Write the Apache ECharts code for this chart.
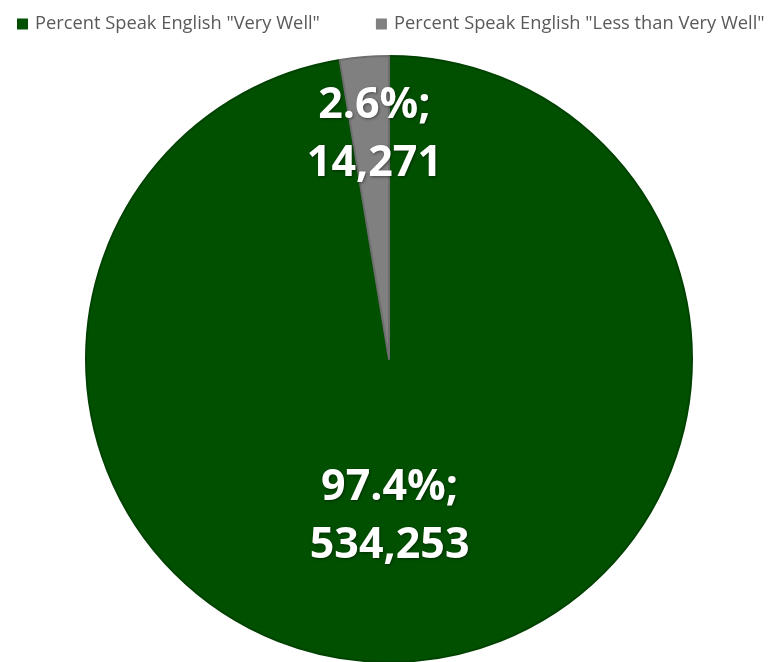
<!DOCTYPE html>
<html>
<head>
<meta charset="utf-8">
<script src="https://cdn.jsdelivr.net/npm/echarts@6/dist/echarts.min.js"></script>
<style>html,body{margin:0;padding:0;background:#fff;}#c{width:774px;height:662px;}</style>
</head>
<body>
<div id="c"></div>
<script>
const categories = ['Percent Speak English "Very Well"', 'Percent Speak English "Less than Very Well"'];
const counts = [534253, 14271];
const percents = ['97.4%', '2.6%'];
const colors = ['#005000', '#808080'];
const borderColors = ['#004200', '#6e6e6e'];

const chart = echarts.init(document.getElementById('c'));
chart.setOption({
  animation: false,
  legend: {
    left: 12, top: 10,
    itemWidth: 11, itemHeight: 11, itemGap: 56,
    icon: 'rect',
    itemStyle: { borderWidth: 0 },
    textStyle: { fontFamily: 'Open Sans', fontSize: 18.3, color: '#595959', padding: [0, 0, 0, 2] },
    data: categories
  },
  series: [{
    type: 'pie',
    center: [389, 359],
    radius: ['0%', 303],
    startAngle: 90,
    clockwise: true,
    label: {
      show: true,
      position: 'inside',
      fontFamily: 'Open Sans',
      fontWeight: 'bold',
      fontSize: 43,
      lineHeight: 58,
      color: '#fff',
      textShadowColor: 'rgba(0,0,0,0.45)',
      textShadowBlur: 3,
      textShadowOffsetX: 1,
      textShadowOffsetY: 1,
      formatter: p => percents[p.dataIndex] + ';\n' + counts[p.dataIndex].toLocaleString('en-US')
    },
    labelLayout: function (p) {
      if (p.dataIndex === 1) return { dy: -70, dx: -2 };
      return { dx: -12, dy: 4 };
    },
    labelLine: { show: false },
    data: categories.map((c, i) => ({
      name: c, value: counts[i],
      itemStyle: { color: colors[i], borderColor: borderColors[i], borderWidth: 2 }
    }))
  }]
});
</script>
</body>
</html>
